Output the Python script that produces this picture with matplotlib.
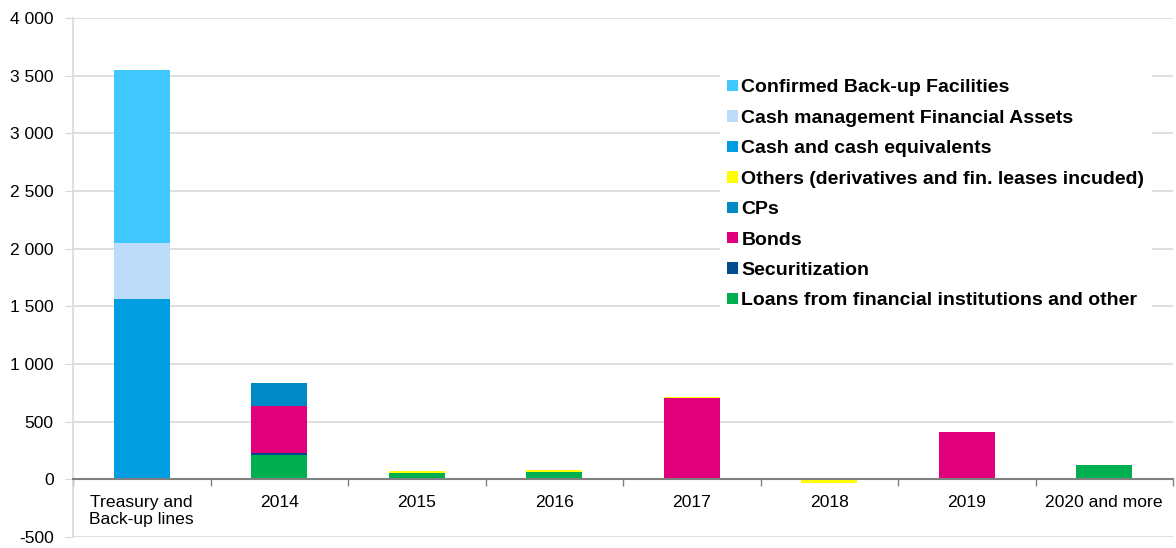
import numpy as np
import matplotlib.pyplot as plt

plt.rcParams['font.family'] = ['Liberation Sans', 'DejaVu Sans']

# maturity buckets and the stacked components (EUR m)
categories = ['Treasury and\nBack-up lines', '2014', '2015', '2016', '2017',
              '2018', '2019', '2020 and more']
loans = [0, 215, 58, 63, 0, 0, 0, 128]
securitization = [0, 12, 0, 0, 0, 0, 0, 0]
bonds = [0, 410, 0, 0, 707, 0, 407, 0]
cps = [0, 198, 0, 0, 0, 0, 0, 0]
others = [0, 0, 15, 17, 6, -35, 0, 0]
cash = [1560, 0, 0, 0, 0, 0, 0, 0]
cash_mgmt = [490, 0, 0, 0, 0, 0, 0, 0]
backup = [1500, 0, 0, 0, 0, 0, 0, 0]

# bottom-to-top stacking order
series = [
    ('Loans from financial institutions and other', loans, '#00b050'),
    ('Securitization', securitization, '#004b8d'),
    ('Bonds', bonds, '#e2007a'),
    ('CPs', cps, '#008ac8'),
    ('Others (derivatives and fin. leases incuded)', others, '#ffff00'),
    ('Cash and cash equivalents', cash, '#009ee0'),
    ('Cash management Financial Assets', cash_mgmt, '#bddcfa'),
    ('Confirmed Back-up Facilities', backup, '#41c8ff'),
]

fig = plt.figure(figsize=(11.76, 5.48), dpi=100)
ax = fig.add_axes([73 / 1176, 11 / 548, 1100 / 1176, 519 / 548])

x = np.arange(len(categories))
pos = np.zeros(len(categories))
neg = np.zeros(len(categories))
handles = []
for name, vals, color in series:
    vals = np.array(vals, dtype=float)
    bottom = np.where(vals >= 0, pos, neg)
    h = ax.bar(x, vals, width=0.41, bottom=bottom, color=color, label=name,
               zorder=3)
    pos += np.where(vals >= 0, vals, 0)
    neg += np.where(vals < 0, vals, 0)
    handles.append(h)

ax.set_xlim(-0.5, len(categories) - 0.5)
ax.set_ylim(-500, 4000)
yt = np.arange(-500, 4001, 500)
ax.set_yticks(yt)
ax.set_yticklabels([f'{v:,}'.replace(',', ' ') for v in yt])
ax.yaxis.grid(True, color='#d9d9d9', linewidth=1.2, zorder=0)
ax.tick_params(axis='y', length=6, color='#d9d9d9', pad=8, labelsize=12.6)

ax.set_xticks(x)
ax.set_xticklabels(categories, linespacing=1.2)
ax.set_xticks(np.arange(-0.5, len(categories)), minor=True)
ax.tick_params(axis='x', which='major', length=0, pad=11, labelsize=12.6)
ax.tick_params(axis='x', which='minor', length=5, color='#808080', width=1)

ax.spines['bottom'].set_position(('data', 0))
ax.spines['bottom'].set_color('#808080')
ax.spines['bottom'].set_linewidth(1.5)
ax.spines['bottom'].set_zorder(4)
ax.spines['left'].set_color('#d9d9d9')
ax.spines['left'].set_linewidth(1.2)
ax.spines['top'].set_visible(False)
ax.spines['right'].set_visible(False)

leg = ax.legend(handles[::-1], [s[0] for s in series[::-1]],
                loc='upper left', bbox_to_anchor=(710 / 1176, 1 - 62 / 548),
                bbox_transform=fig.transFigure, frameon=True, fancybox=False,
                edgecolor='none', facecolor='white', framealpha=1,
                prop={'weight': 'bold', 'size': 14},
                handlelength=0.52, handleheight=0.52, handletextpad=0.2,
                labelspacing=0.69, borderpad=0.4)
leg.set_zorder(5)

fig.savefig('out.png', dpi=100)
